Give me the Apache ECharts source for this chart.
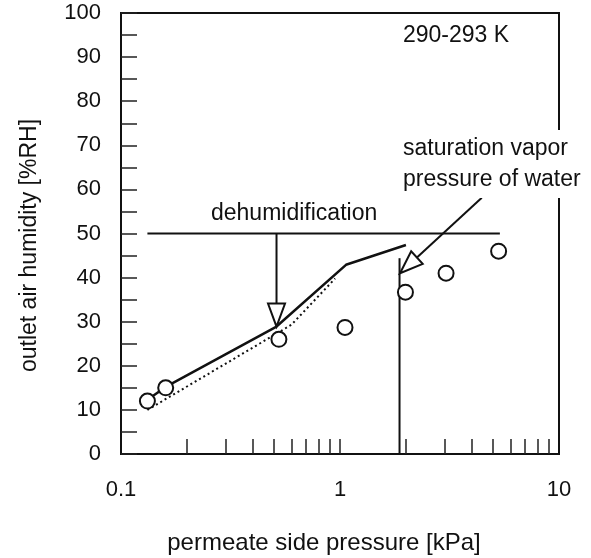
<!DOCTYPE html>
<html>
<head>
<meta charset="utf-8">
<script src="https://cdn.jsdelivr.net/npm/echarts@6/dist/echarts.min.js"></script>
<style>html,body{margin:0;padding:0;background:#fff}#c{width:591px;height:558px}</style>
</head>
<body>
<div id="c"></div>
<script>
// ---- data ----
const xLabelValues = [0.1, 1, 10];
const xTickValues = [0.2, 0.3, 0.4, 0.5, 0.6, 0.7, 0.8, 0.9, 1, 2, 3, 4, 5, 6, 7, 8, 9];
const measuredX = [0.132, 0.160, 0.526, 1.054, 1.99, 3.05, 5.3];
const measuredY = [12.0, 15.0, 26.0, 28.7, 36.7, 41.0, 46.0];
const solidX = [0.132, 0.160, 0.513, 1.065, 2.0];
const solidY = [12.3, 15.2, 28.9, 42.9, 47.4];
const dottedX = [0.132, 0.60, 0.95];
const dottedY = [10.0, 29.3, 39.8];
const dehumX = [0.132, 5.37];
const dehumY = [50, 50];
const satX = [1.87, 1.87];
const satY = [0, 44.4];
// arrows: [fromX, fromY, toX, toY]
const arrows = [[0.513, 50, 0.513, 28.9], [4.44, 58.1, 1.88, 41.0]];

const FONT = "'Liberation Sans', Arial, sans-serif";
const zip = (xs, ys) => xs.map((x, i) => [x, ys[i]]);

const chart = echarts.init(document.getElementById('c'));
chart.setOption({
  animation: false,
  backgroundColor: '#fff',
  grid: { left: 121, right: 32, top: 13, bottom: 104, outerBoundsMode: 'none', containLabel: false,
    show: true, borderColor: '#111', borderWidth: 2, backgroundColor: 'transparent' },
  xAxis: {
    type: 'log', logBase: 10, min: 0.1, max: 10,
    name: 'permeate side pressure [kPa]', nameLocation: 'middle', nameGap: 77,
    nameTextStyle: { fontFamily: FONT, fontSize: 24, color: '#111', padding: [0, 32, 0, 0] },
    axisLine: { show: true, lineStyle: { color: '#111', width: 2 } },
    axisTick: { show: true, inside: true, length: 15, customValues: xTickValues, lineStyle: { color: '#222', width: 1.5 } },
    axisLabel: { customValues: xLabelValues, margin: 25, fontFamily: FONT, fontSize: 22, color: '#111',
      formatter: v => String(+(+v).toPrecision(3)) },
    minorTick: { show: false }, splitLine: { show: false }
  },
  yAxis: {
    type: 'value', min: 0, max: 100, interval: 5,
    name: 'outlet air humidity [%RH]', nameLocation: 'middle', nameGap: 80,
    nameTextStyle: { fontFamily: FONT, fontSize: 23, color: '#111', padding: [0, 24, 0, 0] },
    axisLine: { show: true, lineStyle: { color: '#111', width: 2 } },
    axisTick: { show: true, inside: true, length: 16, lineStyle: { color: '#222', width: 1.5 } },
    axisLabel: { margin: 20, fontFamily: FONT, fontSize: 22, color: '#111',
      formatter: v => (v % 10 === 0 ? String(v) : '') },
    splitLine: { show: false }
  },
  graphic: [
    { type: 'text', z: 100, style: { text: '290-293 K', x: 403, y: 36, verticalAlign: 'middle', font: '23px ' + FONT, fill: '#111' } },
    { type: 'text', z: 100, style: { text: 'dehumidification', x: 211, y: 214, verticalAlign: 'middle', font: '23px ' + FONT, fill: '#111' } },
    { type: 'text', z: 100, style: { text: 'saturation vapor\npressure of water', x: 403, y: 164, verticalAlign: 'middle', lineHeight: 31,
      font: '23px ' + FONT, fill: '#111', backgroundColor: '#fff', padding: [3, 0, 3, 0] } }
  ],
  series: [
    { type: 'line', data: zip(dehumX, dehumY), symbol: 'none', lineStyle: { color: '#111', width: 2 }, z: 2 },
    { type: 'line', data: zip(satX, satY), symbol: 'none', lineStyle: { color: '#111', width: 2 }, z: 2 },
    { type: 'line', data: zip(dottedX, dottedY), symbol: 'none', lineStyle: { color: '#111', width: 2, type: [2, 3] }, z: 2 },
    { type: 'line', data: zip(solidX, solidY), symbol: 'none', lineStyle: { color: '#111', width: 2.5 }, z: 3 },
    {
      type: 'custom', data: arrows, z: 4,
      encode: { x: [0, 2], y: [1, 3] },
      renderItem: (params, api) => {
        const p1 = api.coord([api.value(0), api.value(1)]);
        const p2 = api.coord([api.value(2), api.value(3)]);
        const dx = p2[0] - p1[0], dy = p2[1] - p1[1];
        const len = Math.sqrt(dx * dx + dy * dy);
        const ux = dx / len, uy = dy / len;
        const L = 23, W = 8.5;
        const bx = p2[0] - ux * L, by = p2[1] - uy * L;
        const nx = -uy, ny = ux;
        return {
          type: 'group',
          children: [
            { type: 'line', shape: { x1: p1[0], y1: p1[1], x2: bx, y2: by }, style: { stroke: '#111', lineWidth: 2 } },
            { type: 'polygon', shape: { points: [[p2[0], p2[1]], [bx + nx * W, by + ny * W], [bx - nx * W, by - ny * W]] },
              style: { fill: '#fff', stroke: '#111', lineWidth: 2 } }
          ]
        };
      }
    },
    { type: 'scatter', data: zip(measuredX, measuredY), symbol: 'circle', symbolSize: 15,
      itemStyle: { color: '#fff', borderColor: '#111', borderWidth: 2, opacity: 1 }, z: 5 }
  ]
});
</script>
</body>
</html>
